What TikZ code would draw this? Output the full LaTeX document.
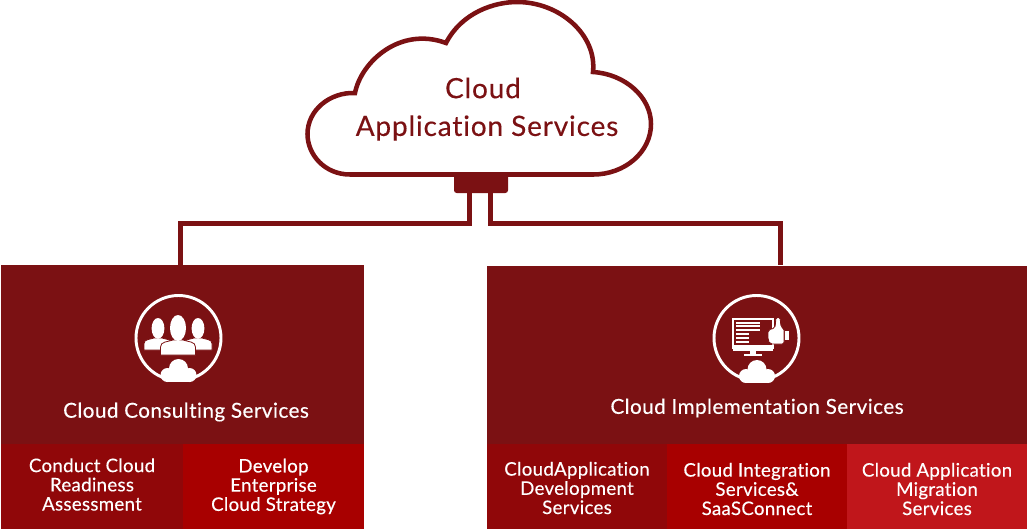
\documentclass[tikz,border=0pt]{standalone}
\usepackage{fontspec}
\setmainfont{Lato}
\newfontfamily\headfont[LetterSpace=3,FakeBold=0.25,Ligatures=NoCommon]{Lato}
\newfontfamily\titlefont[LetterSpace=2.2,FakeBold=0.3,Ligatures=NoCommon]{Lato}
\newfontfamily\tilefont[LetterSpace=1.6,FakeBold=0.3,Ligatures=NoCommon]{Lato}
\usetikzlibrary{calc}
\definecolor{maroon}{HTML}{7B1113}
\definecolor{subdark}{HTML}{900709}
\definecolor{submid}{HTML}{A80000}
\definecolor{sublight}{HTML}{C0161B}
\tikzstyle{panel}=[fill=maroon, inner sep=0pt, minimum height=134.25pt]
\tikzstyle{tile}=[inner sep=0pt, minimum height=63.75pt]
\tikzstyle{service}=[text=white, inner sep=0pt, align=center,
  font=\tilefont\fontsize{14}{14.4}\selectfont]
\tikzstyle{title}=[text=white, inner sep=0pt, font=\titlefont\fontsize{15.5}{18}\selectfont]
\tikzstyle{heading}=[text=maroon, inner sep=0pt, font=\headfont\fontsize{21}{29}\selectfont]
\tikzstyle{link}=[draw=maroon, line width=3.75pt]
\tikzstyle{ring}=[draw=white, line width=2.2pt, fill=none]
\newcommand{\smallcloud}[2]{
  \fill[white] (#1,#2-2.5) circle[radius=9.5];
  \fill[white] (#1-11,#2+4) circle[radius=7];
  \fill[white] (#1+11,#2+4) circle[radius=7];
  \fill[white] (#1-11,#2+3) rectangle (#1+11,#2+11);
}
\newcommand{\person}[3]{
  \fill[white, draw=maroon, line width=0.6pt] (#1-#3*17.5,#2+#3*15) -- (#1-#3*17.5,#2+#3*7)
    to[out=90,in=200] (#1-#3*5,#2) -- (#1+#3*5,#2)
    to[out=-20,in=90] (#1+#3*17.5,#2+#3*7) -- (#1+#3*17.5,#2+#3*15) -- cycle;
  \fill[white] (#1,#2-#3*12) ellipse[x radius=#3*8, y radius=#3*13];
}
\begin{document}
\begin{tikzpicture}[x=0.75pt,y=-0.75pt]
  \useasboundingbox (0,0) rectangle (1028,529);

  % cloud outline
  \draw[maroon, line width=3.4pt, fill=white]
    (350,174.5) .. controls (325,174.5) and (307.5,155) .. (307.5,134)
    .. controls (307.5,110) and (330,92) .. (355,93)
    .. controls (361,62) and (400,26) .. (446,43)
    .. controls (462,12) and (495,2) .. (517,2)
    .. controls (560,2) and (597,35) .. (593,72)
    .. controls (625,74) and (651,97) .. (651,124)
    .. controls (651,152) and (625,174.5) .. (593,174.5) -- cycle;
  \node(cloudtop)[heading] at (483,88){Cloud};
  \node(cloudname)[heading] at (487,128){Application Services};

  \node(hub)[fill=maroon, inner sep=0pt, minimum width=40.5pt, minimum height=15pt,
    rounded corners=2pt] at (481,183){};

  % panels
  \node(consulting)[panel, minimum width=272.25pt] at (182.5,354.5){};
  \node(implementation)[panel, minimum width=405pt] at (757,355){};

  \coordinate(leftdrop) at (180,223.5);
  \coordinate(rightdrop) at (780,223.5);
  \draw[link] ($(hub.south)+(-11.5,-2)$) |- (leftdrop) -- (leftdrop |- consulting.north);
  \draw[link] ($(hub.south)+(9.5,-2)$) |- (rightdrop) -- (rightdrop |- implementation.north);

  \node(consultingtitle)[title] at (186,412){Cloud Consulting Services};
  \node(implementationtitle)[title] at (757,408){Cloud Implementation Services};

  % service boxes
  \node(readiness)[tile, fill=subdark, minimum width=136.5pt] at (92,486.5){};
  \path(readiness.center)+(0,-2) node(readinesstext)[service]{Conduct Cloud\\Readiness\\Assessment};

  \node(strategy)[tile, fill=submid, minimum width=135.75pt] at (273.5,486.5){};
  \path(strategy.center)+(0,0) node(strategytext)[service]{Develop\\Enterprise\\Cloud Strategy};

  \node(development)[tile, fill=subdark, minimum width=135pt] at (577,486.5){};
  \path(development.center)+(0,1.5) node(developmenttext)[service]{CloudApplication\\Development\\Services};

  \node(integration)[tile, fill=submid, minimum width=135pt] at (757,486.5){};
  \path(integration.center)+(0,2.5) node(integrationtext)[service]{Cloud Integration\\Services\&\\SaaSConnect};

  \node(migration)[tile, fill=sublight, minimum width=135pt] at (937,486.5){};
  \path(migration.center)+(0,2.5) node(migrationtext)[service]{Cloud Application\\Migration\\Services};

  % consulting icon
  \draw[ring] (178.5,338) circle[radius=42.5];
  \person{158}{338}{0.8}
  \person{198}{338}{0.8}
  \person{178}{340}{1}
  \smallcloud{178.5}{371}

  % implementation icon
  \draw[ring] (756.5,338) circle[radius=42.5];
  \draw[white, line width=1.2pt] (733,319) rectangle (773,348);
  \foreach \ypos/\xend in {323/760,326/760,330/760,334/749,338/749,342/749}
    \draw[white, line width=1pt] (736,\ypos) -- (\xend,\ypos);
  \fill[white] (733,345) rectangle (773,351);
  \fill[white] (750,351) rectangle (756,355);
  \fill[white] (744,354) rectangle (762,356);
  \fill[white, draw=maroon, line width=0.6pt, rounded corners=1.5pt] (768,330) -- (775,328) -- (776,317) -- (780,317)
    -- (781,327) -- (784,328) -- (784,344) -- (770,344) -- (768,340) -- cycle;
  \fill[white] (785,331) rectangle (789,340);
  \smallcloud{757}{372}
\end{tikzpicture}
\end{document}
